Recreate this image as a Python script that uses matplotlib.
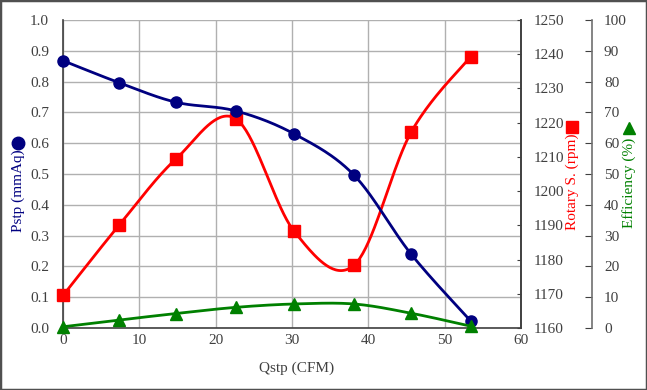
import numpy as np
import matplotlib
matplotlib.use("Agg")
import matplotlib.pyplot as plt
from matplotlib.lines import Line2D
from matplotlib.patches import Rectangle

# ---- data ----
qstp = [0.0, 7.4, 14.8, 22.6, 30.3, 38.1, 45.6, 53.4]
pstp = [0.868, 0.796, 0.733, 0.705, 0.630, 0.497, 0.240, 0.023]
rpm = [1169.5, 1190.2, 1209.4, 1221.2, 1188.2, 1178.3, 1217.2, 1239.3]
eff = [0.4, 2.6, 4.7, 6.7, 7.8, 7.8, 4.8, 0.6]

x_ticks = [0, 10, 20, 30, 40, 50, 60]
p_ticks = [0.0, 0.1, 0.2, 0.3, 0.4, 0.5, 0.6, 0.7, 0.8, 0.9, 1.0]
rpm_ticks = [1160, 1170, 1180, 1190, 1200, 1210, 1220, 1230, 1240, 1250]
eff_ticks = [0, 10, 20, 30, 40, 50, 60, 70, 80, 90, 100]

BLUE = "#000080"
RED = "#FF0000"
GREEN = "#008000"
TXT = "#404040"
FONT = "Liberation Serif"
FS = 11

plt.rcParams["font.family"] = [FONT, "DejaVu Serif"]
plt.rcParams["font.size"] = FS


def smooth(xs, ys, n=40):
    """Excel-like smoothed line: cubic Bezier through the points."""
    P = np.column_stack([xs, ys]).astype(float)
    P = np.vstack([P[0], P, P[-1]])
    out = []
    t = np.linspace(0, 1, n)[:, None]
    for i in range(1, len(P) - 2):
        p0, p1, p2, p3 = P[i - 1], P[i], P[i + 1], P[i + 2]
        c1 = p1 + (p2 - p0) / 6.0
        c2 = p2 - (p3 - p1) / 6.0
        seg = ((1 - t) ** 3) * p1 + 3 * ((1 - t) ** 2) * t * c1 + 3 * (1 - t) * t ** 2 * c2 + t ** 3 * p2
        out.append(seg if i == 1 else seg[1:])
    out = np.vstack(out)
    return out[:, 0], out[:, 1]


W, H = 647, 390
fig = plt.figure(figsize=(W / 100, H / 100), dpi=100)
fig.patch.set_facecolor("white")
fig.patches.append(Rectangle((0, 0), 1, 1, transform=fig.transFigure, fill=False,
                             edgecolor="#505050", linewidth=2.5, zorder=10))

L, R, T, B = 63, 521, 20, 328
ax = fig.add_axes([L / W, 1 - B / H, (R - L) / W, (B - T) / H])
ax2 = ax.twinx()
ax3 = ax.twinx()

ax.tick_params(axis="x", length=0, pad=4, labelcolor=TXT, labelsize=FS)
ax.tick_params(axis="y", length=0, pad=10, labelcolor=TXT, labelsize=FS)
ax2.tick_params(axis="y", direction="in", length=3, pad=9, color="#404040", labelcolor=TXT, labelsize=FS)
ax3.tick_params(axis="y", direction="in", length=5, pad=9, color="#404040", labelcolor=TXT, labelsize=FS)

ax.set_xlim(0, 60)
ax.set_ylim(0, 1.0)
ax2.set_ylim(1160, 1250)
ax3.set_ylim(0, 100)

ax.set_xticks(x_ticks, [str(v) for v in x_ticks])
ax.set_yticks(p_ticks, [f"{v:.1f}" for v in p_ticks])
ax2.set_yticks(rpm_ticks, [str(v) for v in rpm_ticks])
ax3.set_yticks(eff_ticks, [str(v) for v in eff_ticks])

ax.grid(True, color="#b0b0b0", linewidth=1.0)
ax.set_axisbelow(True)

for s in ["left", "bottom", "right"]:
    ax.spines[s].set_color("#404040")
    ax.spines[s].set_linewidth(1.2)
ax.spines["top"].set_visible(False)
for s in ["left", "bottom", "top"]:
    ax2.spines[s].set_visible(False)
    ax3.spines[s].set_visible(False)
ax2.spines["right"].set_color("#404040")
ax2.spines["right"].set_linewidth(1.2)
ax3.spines["right"].set_position(("axes", (591.5 - L) / (R - L)))
ax3.spines["right"].set_color("#707070")
ax3.spines["right"].set_linewidth(1.2)

# series
sx, sy = smooth(qstp, rpm)
ax2.plot(sx, sy, color=RED, linewidth=2.0, zorder=3, clip_on=False)
ax2.plot(qstp, rpm, linestyle="none", marker="s", markersize=8, color=RED, zorder=4, clip_on=False)

sx, sy = smooth(qstp, pstp)
ax3.plot(np.array(sx), np.array(sy) * 100, color=BLUE, linewidth=2.0, zorder=3, clip_on=False)
ax3.plot(qstp, np.array(pstp) * 100, linestyle="none", marker="o", markersize=8, color=BLUE,
         zorder=4, clip_on=False)

sx, sy = smooth(qstp, eff)
ax3.plot(sx, sy, color=GREEN, linewidth=2.0, zorder=5, clip_on=False)
ax3.plot(qstp, eff, linestyle="none", marker="^", markersize=8, color=GREEN, zorder=6, clip_on=False)

# axis titles with marker symbols
fig.text(297 / W, 1 - 368 / H, "Qstp (CFM)", ha="center", va="center",
         fontsize=FS, color=TXT)
fig.text(18 / W, 1 - 191 / H, "Pstp (mmAq)", ha="center", va="center", rotation=90,
         fontsize=FS, color=BLUE)
fig.add_artist(Line2D([18 / W], [1 - 143 / H], transform=fig.transFigure, marker="o",
                      markersize=9, color=BLUE, linestyle="none"))
fig.text(572 / W, 1 - 182 / H, "Rotary S. (rpm)", ha="center", va="center", rotation=90,
         fontsize=FS, color=RED)
fig.add_artist(Line2D([572 / W], [1 - 127 / H], transform=fig.transFigure, marker="s",
                      markersize=9, color=RED, linestyle="none"))
fig.text(629 / W, 1 - 183 / H, "Efficiency (%)", ha="center", va="center", rotation=90,
         fontsize=FS, color=GREEN)
fig.add_artist(Line2D([629 / W], [1 - 128 / H], transform=fig.transFigure, marker="^",
                      markersize=9, color=GREEN, linestyle="none"))

fig.savefig("out.png", dpi=100)
